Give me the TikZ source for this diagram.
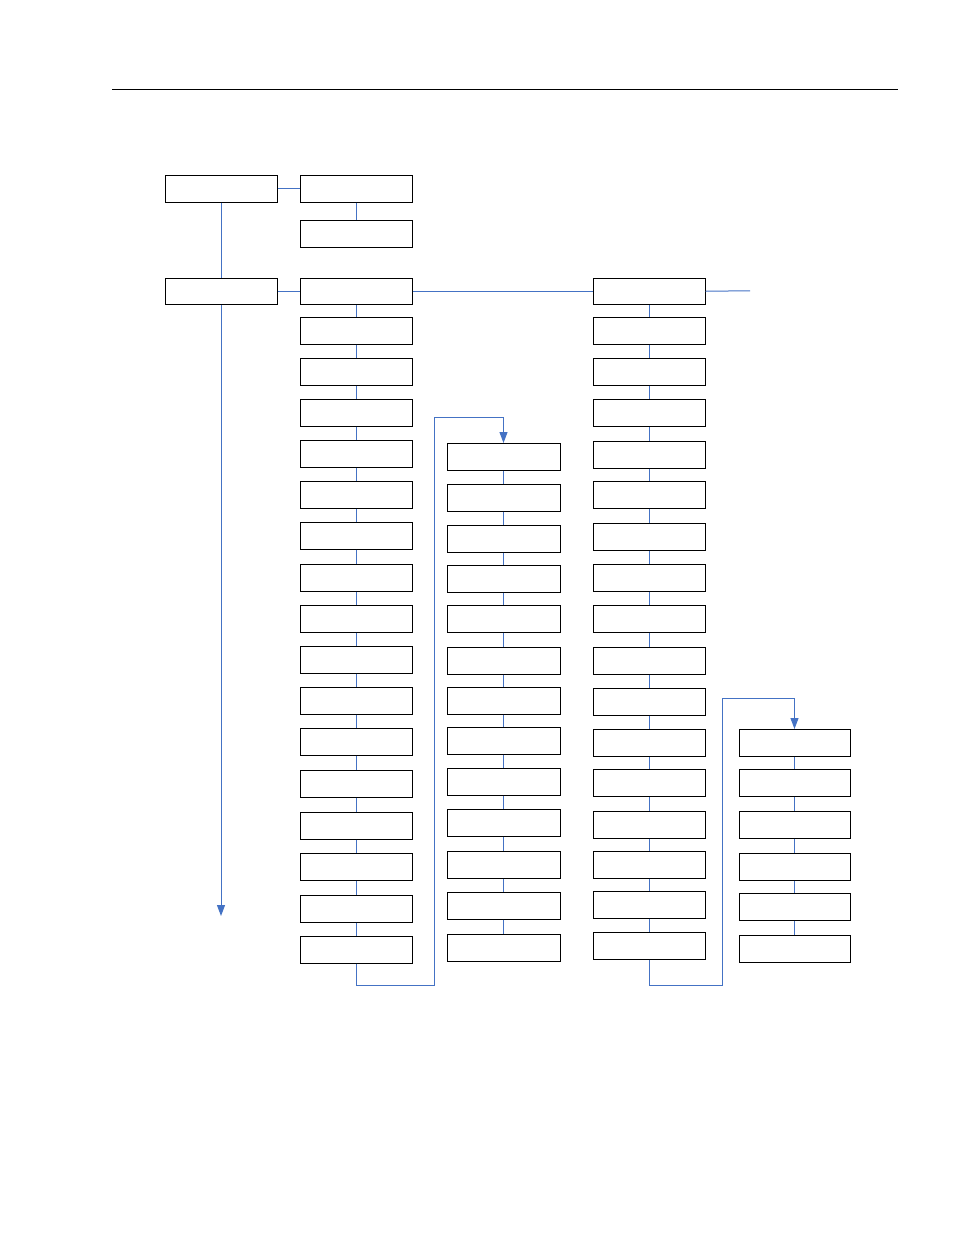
\documentclass[tikz,border=0pt]{standalone}
\usetikzlibrary{arrows.meta}
\definecolor{conn}{HTML}{4472C4}
\begin{document}
\begin{tikzpicture}[x=1pt,y=-1pt,
  box/.style={draw=black,line width=1pt,minimum width=112pt,minimum height=26.5pt,inner sep=0pt,anchor=north,fill=white},
  link/.style={draw=conn,line width=1pt},
  arr/.style={link,-{Triangle[width=8pt,length=11pt]}}]
\useasboundingbox (0,0) rectangle (954,1235);
% header rule
\coordinate (h1) at (112,89);
\coordinate (h2) at (898,89);
\draw[line width=0.8pt] (h1) -- (h2);
% column A
\node[box] (a1) at (221,175) {};
\node[box] (a2) at (221,277.5) {};
% column B top
\node[box] (t1) at (356,175) {};
\node[box] (t2) at (356,220) {};
% column B
\foreach \y [count=\i] in {277.5,317,358,399,440,481,522,564,605,646,687,728,770,812,853,895,936}
  \node[box] (b\i) at (356,\y) {};
% column C
\foreach \y [count=\i] in {443,484,525,565,605,647,687,727,768,809,851,892,934}
  \node[box,minimum width=113pt] (c\i) at (503.5,\y) {};
% column D
\foreach \y [count=\i] in {277.5,317,358,399,441,481,523,564,605,647,688,729,769,811,851,891,932}
  \node[box] (d\i) at (649,\y) {};
% column E
\foreach \y [count=\i] in {729,769,811,853,893,935}
  \node[box,minimum width=111pt] (e\i) at (794.5,\y) {};
% connectors
\draw[link] (a1.east) -- (t1.west);
\draw[link] (t1.south) -- (t2.north);
\draw[link] (a1.south) -- (a2.north);
\coordinate (aend) at (221,916);
\draw[arr] (a2.south) -- (aend);
\draw[link] (a2.east) -- (b1.west);
\draw[link] (b1.east) -- (d1.west);
\coordinate (dright) at (750,290.75);
\draw[link] (d1.east) -- (dright);
\foreach \i [evaluate=\i as \j using int(\i+1)] in {1,...,16} {
  \draw[link] (b\i.south) -- (b\j.north);
  \draw[link] (d\i.south) -- (d\j.north);
}
\foreach \i [evaluate=\i as \j using int(\i+1)] in {1,...,12}
  \draw[link] (c\i.south) -- (c\j.north);
\foreach \i [evaluate=\i as \j using int(\i+1)] in {1,...,5}
  \draw[link] (e\i.south) -- (e\j.north);
% loop B -> C
\draw[arr] (b17.south) -- (356,985) -- (434,985) -- (434,417) -- (503.5,417) -- (c1.north);
% loop D -> E
\draw[arr] (d17.south) -- (649,985) -- (722,985) -- (722,698) -- (794.5,698) -- (e1.north);
\end{tikzpicture}
\end{document}
